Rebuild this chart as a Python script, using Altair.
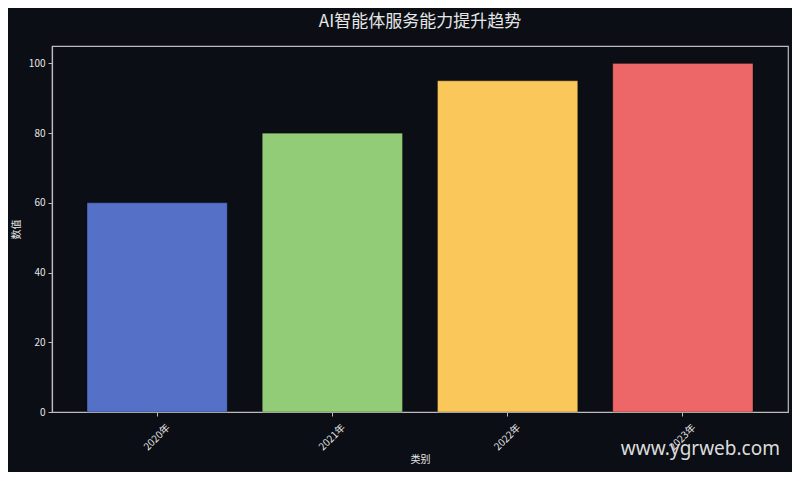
import altair as alt
import pandas as pd

categories = ["2020年", "2021年", "2022年", "2023年"]
values = [60, 80, 95, 100]
colors = ["#5571c7", "#92cc76", "#f9c75a", "#ee6768"]

df = pd.DataFrame({"类别": categories, "数值": values, "color": colors})

FONT = "Noto Sans CJK SC"
BG = "#0b0e14"
FG = "#e6e6e6"
FRAME = "#bdbdbd"

bars = alt.Chart(df).mark_bar(strokeWidth=1, stroke="#000000", strokeOpacity=0.25).encode(
    x=alt.X("类别:N", sort=categories,
            scale=alt.Scale(paddingInner=0.2, paddingOuter=0.2),
            axis=alt.Axis(title="类别", labelAngle=315, labelAlign="center", labelBaseline="middle",
                          labelPadding=21, titlePadding=3)),
    y=alt.Y("数值:Q", scale=alt.Scale(domain=[0, 105], nice=False),
            axis=alt.Axis(title="数值", values=[0, 20, 40, 60, 80, 100], grid=False,
                          labelPadding=3, titlePadding=7)),
    color=alt.Color("color:N", scale=None),
)

watermark = alt.Chart(pd.DataFrame({"t": ["www.ygrweb.com"]})).mark_text(
    font="Noto Sans", fontSize=19, color="#dcdcdc", align="right", baseline="alphabetic"
).encode(text="t:N", x=alt.value(728), y=alt.value(409))

chart = alt.layer(bars, watermark).properties(
    width=736, height=366,
    background=BG,
    autosize=alt.AutoSizeParams(type="none"),
    padding={"left": 44, "top": 38, "right": 4, "bottom": 60},
    title=alt.TitleParams("AI智能体服务能力提升趋势", font=FONT, fontSize=17, color=FG,
                          fontWeight="normal", offset=15, anchor="middle"),
).configure_view(stroke=FRAME, strokeWidth=1.2, fill=BG).configure_axis(
    labelFont=FONT, titleFont=FONT, labelColor=FG, titleColor=FG,
    labelFontSize=10, titleFontSize=10, titleFontWeight="normal",
    domainColor=FRAME, tickColor=FRAME, tickSize=4, domainWidth=1.2,
)

chart.save("out.html", embed_options={"renderer": "svg", "actions": False})
